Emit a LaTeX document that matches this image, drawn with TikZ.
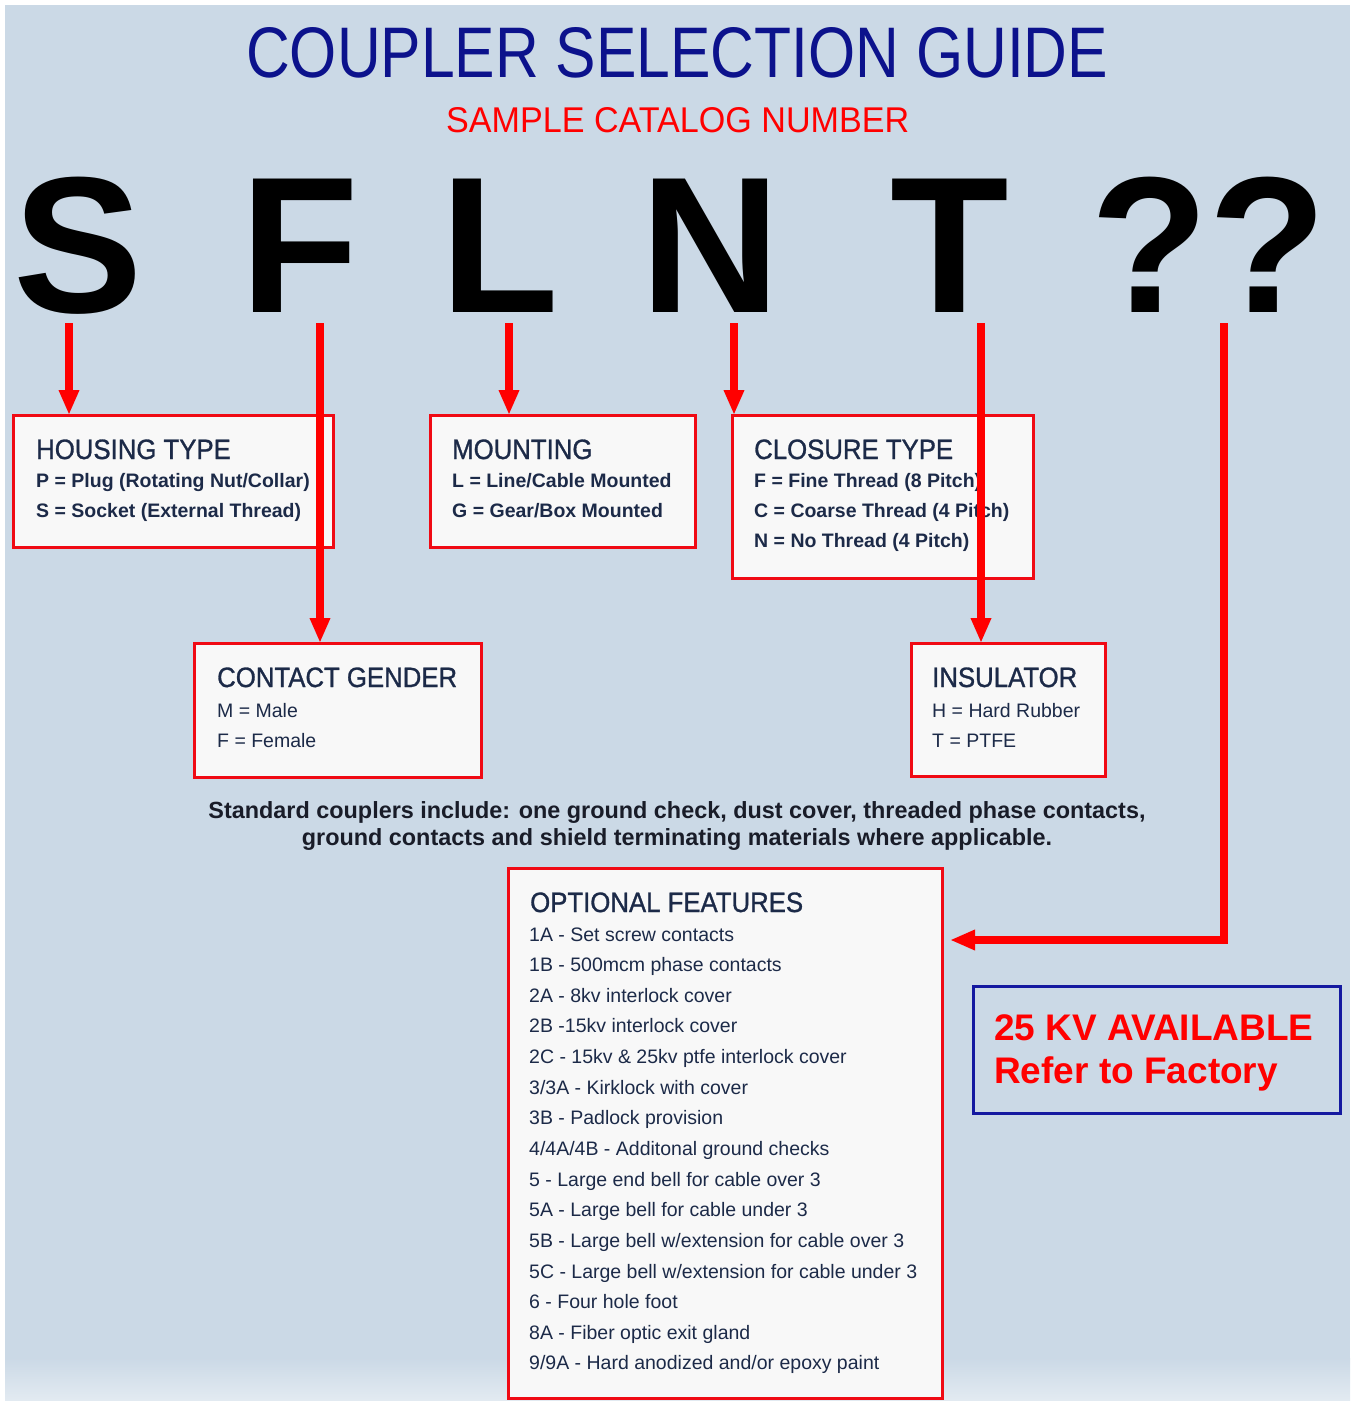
\documentclass[tikz,border=0pt]{standalone}
\usepackage{fontspec}
\setmainfont{Liberation Sans}
\newfontfamily\headfont[FakeStretch=0.92,FakeBold=1]{Liberation Sans}
\usetikzlibrary{arrows.meta}
\definecolor{bgc}{RGB}{203,217,230}
\definecolor{boxfill}{RGB}{248,248,248}
\definecolor{boxred}{RGB}{240,10,20}
\definecolor{arrred}{RGB}{255,0,0}
\definecolor{navy}{RGB}{28,42,72}
\definecolor{titleblue}{RGB}{12,18,140}
\definecolor{kvblue}{RGB}{20,25,160}
\definecolor{stdtext}{RGB}{25,28,40}
\begin{document}
\begin{tikzpicture}[x=1pt,y=-1pt,
  box/.style={draw=boxred, line width=3pt, fill=boxfill, anchor=north west, inner sep=0pt, outer sep=0pt},
  head/.style={anchor=base west, inner sep=0pt, text=navy, font=\headfont\fontsize{28}{28}\selectfont},
  itemb/.style={anchor=base west, inner sep=0pt, text=navy, font=\bfseries\fontsize{19.5}{19.5}\selectfont},
  itemr/.style={anchor=base west, inner sep=0pt, text=navy, font=\fontsize{19.5}{19.5}\selectfont},
  stdline/.style={anchor=base, inner sep=0pt, text=stdtext, font=\bfseries\fontsize{23.4}{23.4}\selectfont},
  kvline/.style={anchor=base west, inner sep=0pt, text=arrred, font=\bfseries\fontsize{37}{37}\selectfont},
  big/.style={anchor=base west, inner sep=0pt, text=black, font=\bfseries\fontsize{194}{194}\selectfont},
  arr/.style={draw=arrred, line width=8pt, -{Triangle[length=25pt,width=19pt]}}]
\useasboundingbox (0,0) rectangle (1350,1402);
\fill[white] (0,0) rectangle (1350,1402);
\fill[bgc] (5,5) rectangle (1350,1400);
\shade[top color=bgc, bottom color=bgc!55!white] (5,1358) rectangle (1350,1400);

% title
\node[anchor=south west, inner sep=0pt, text=titleblue] (title) at (246,78)
  {\resizebox{862pt}{50pt}{\fontsize{70}{70}\selectfont COUPLER SELECTION GUIDE}};
\node[anchor=south west, inner sep=0pt, text=arrred] (sample) at (446,133)
  {\resizebox{463pt}{25pt}{\fontsize{35}{35}\selectfont SAMPLE CATALOG NUMBER}};

% big letters
\node[big] (lS) at (13,312) {S};
\node[big] (lF) at (240,312) {F};
\node[big] (lL) at (440,312) {L};
\node[big] (lN) at (640,312) {N};
\node[big] (lT) at (890,312) {T};
\node[big] (lQ) at (1090,312) {??};

% boxes
\node[box, minimum width=320pt, minimum height=132pt] (housing) at (13,415) {};
\node[box, minimum width=265pt, minimum height=132pt] (mounting) at (430,415) {};
\node[box, minimum width=301pt, minimum height=163pt] (closure) at (732,415) {};
\node[box, minimum width=287pt, minimum height=134pt] (gender) at (194,643) {};
\node[box, minimum width=194pt, minimum height=133pt] (insulator) at (911,643) {};
\node[box, minimum width=434pt, minimum height=530pt] (optional) at (508,868) {};
\node[box, draw=kvblue, fill=none, minimum width=367pt, minimum height=127pt] (kvbox) at (973,986) {};

% housing
\node[head] (hH) at (36,459) {HOUSING TYPE};
\node[itemb] (hP) at (36,487) {P = Plug (Rotating Nut/Collar)};
\node[itemb] (hS) at (36,517) {S = Socket (External Thread)};
% mounting
\node[head] (mH) at (452,459) {MOUNTING};
\node[itemb] (mL) at (452,487) {L = Line/Cable Mounted};
\node[itemb] (mG) at (452,517) {G = Gear/Box Mounted};
% closure
\node[head] (cH) at (754,459) {CLOSURE TYPE};
\node[itemb] (cF) at (754,487) {F = Fine Thread (8 Pitch)};
\node[itemb] (cC) at (754,517) {C = Coarse Thread (4 Pitch)};
\node[itemb] (cN) at (754,547) {N = No Thread (4 Pitch)};
% gender
\node[head] (gH) at (217,687) {CONTACT GENDER};
\node[itemr] (gM) at (217,717) {M = Male};
\node[itemr] (gF) at (217,747) {F = Female};
% insulator
\node[head] (iH) at (932,687) {INSULATOR};
\node[itemr] (iH1) at (932,717) {H = Hard Rubber};
\node[itemr] (iT) at (932,747) {T = PTFE};

% standard text
\node[stdline] (std1) at (677,818)
  {Standard couplers include: one ground check, dust cover, threaded phase contacts,};
\node[stdline] (std2) at (677,845)
  {ground contacts and shield terminating materials where applicable.};

% optional features
\node[head] (oH) at (530,912) {OPTIONAL FEATURES};
\foreach \t [count=\i from 0] in {
  1A - Set screw contacts,
  1B - 500mcm phase contacts,
  2A - 8kv interlock cover,
  2B -15kv interlock cover,
  2C - 15kv \& 25kv ptfe interlock cover,
  3/3A - Kirklock with cover,
  3B - Padlock provision,
  4/4A/4B - Additonal ground checks,
  5 - Large end bell for cable over 3,
  5A - Large bell for cable under 3,
  5B - Large bell w/extension for cable over 3,
  5C - Large bell w/extension for cable under 3,
  6 - Four hole foot,
  8A - Fiber optic exit gland,
  9/9A - Hard anodized and/or epoxy paint}
  \node[itemr] (o\i) at (529,{941+30.64*\i}) {\t};

% 25 KV
\node[kvline] (kv1) at (994,1040) {25 KV AVAILABLE};
\node[kvline] (kv2) at (994,1083) {Refer to Factory};

% arrows
\coordinate (aS) at (69,323);
\coordinate (aF) at (320,323);
\coordinate (aL) at (509,323);
\coordinate (aN) at (734,323);
\coordinate (aT) at (981,323);
\coordinate (aQ) at (1224,323);
\coordinate (qTurn) at (1224,940);
\draw[arr] (aS) -- (aS |- housing.north);
\draw[arr] (aF) -- (aF |- gender.north);
\draw[arr] (aL) -- (aL |- mounting.north);
\draw[arr] (aN) -- (aN |- closure.north);
\draw[arr] (aT) -- (aT |- insulator.north);
\draw[arr, shorten >=8pt] (aQ) -- (qTurn) -- (qTurn -| optional.east);
\end{tikzpicture}
\end{document}
